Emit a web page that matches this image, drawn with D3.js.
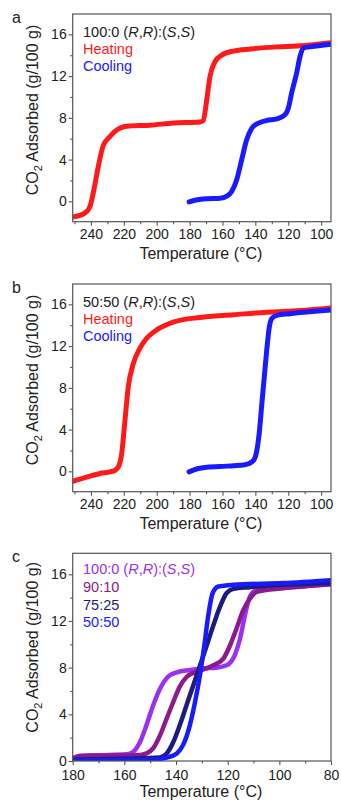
<!DOCTYPE html>
<html>
<head>
<meta charset="utf-8">
<script src="https://cdn.jsdelivr.net/npm/d3@7/dist/d3.min.js"></script>
<style>
    body { margin: 0; background: #fff; }
    svg { font-family: "Liberation Sans", Arial, sans-serif; }
    .tick_label { font-size: 14px; fill: #222; }
    .axis_title { font-size: 16px; fill: #222; }
    .legend { font-size: 14.5px; }
</style>
</head>
<body>
<svg id="chart" width="341" height="802"></svg>
<script>
// ---- panel a : 100:0 ----
var heatA_T = [251, 243.6, 240.6, 238.6, 235.6, 232.6, 228.5, 225.4, 218.3, 204, 190, 173.7, 171.7, 169.6, 167.6, 164.5, 160.5, 153.4, 143.2, 127, 112.8, 94];
var heatA_V = [-1.5, -1.1, -0.5, 0.8, 3.3, 5.3, 6.2, 6.7, 7.2, 7.3, 7.5, 7.6, 7.75, 9.7, 11.95, 13.4, 14.0, 14.4, 14.6, 14.8, 14.9, 15.2];
var coolA_T = [180.3, 175.3, 169.6, 161.5, 157.4, 154.4, 151.3, 148.3, 145.3, 142.2, 138.1, 133.1, 127, 122, 120, 117.9, 114.9, 112.8, 110.8, 106.7, 94];
var coolA_V = [-0.05, 0.15, 0.25, 0.3, 0.5, 0.95, 2.1, 4.0, 5.9, 7.0, 7.5, 7.75, 7.9, 8.3, 8.9, 10.4, 12.3, 13.9, 14.7, 14.8, 15.05];

// ---- panel b : 50:50 ----
var heatB_T = [251.1, 242.6, 234.5, 228.4, 225.4, 223.4, 221.3, 219.3, 217.3, 214.2, 210.2, 206.1, 200, 190, 173.7, 153.4, 133.1, 112.8, 94];
var heatB_V = [-0.95, -0.55, -0.2, -0.05, 0.1, 0.4, 1.7, 4.9, 8.1, 10.35, 11.8, 12.75, 13.55, 14.3, 14.75, 15.0, 15.25, 15.4, 15.65];
var coolB_T = [180.3, 175.3, 169.6, 157.4, 149.2, 144.2, 141.1, 139.1, 137.5, 136.1, 134.6, 133.1, 131.5, 130, 127, 118.9, 94];
var coolB_V = [-0.05, 0.25, 0.4, 0.5, 0.58, 0.73, 1.05, 2.0, 3.9, 6.4, 9.0, 11.6, 13.85, 14.65, 14.95, 15.1, 15.45];

// ---- panel c : cooling curves by ratio ----
var r100_T = [180, 177.2, 169.4, 159.1, 156.5, 153.9, 151.4, 148.8, 146.2, 143.6, 139.7, 134.6, 129.4, 124.3, 120.4, 117.2, 115.2, 113.3, 111.4, 108.8, 98.5, 80];
var r100_V = [0.25, 0.45, 0.5, 0.57, 0.8, 1.65, 3.1, 4.8, 6.2, 7.1, 7.6, 7.8, 7.95, 8.0, 8.2, 9.1, 10.5, 12.5, 14.1, 14.65, 14.85, 15.15];
var r90_T = [180, 177, 170, 155, 151.4, 148.8, 146.2, 143.6, 141, 138.5, 135.9, 132, 128.8, 125.5, 121.6, 119.1, 116.5, 114, 111.4, 108.8, 98.5, 80];
var r90_V = [0.2, 0.4, 0.45, 0.5, 0.65, 1.1, 2.2, 3.65, 5.1, 6.4, 7.2, 7.65, 7.9, 8.2, 8.8, 9.9, 11.4, 12.9, 13.9, 14.5, 14.8, 15.15];
var r75_T = [180, 160, 146.2, 143.6, 141, 138.5, 135.9, 133.3, 130.7, 128.1, 125.5, 123, 120.4, 117.8, 111.4, 80];
var r75_V = [0.1, 0.2, 0.3, 0.65, 1.65, 3.1, 4.8, 6.5, 8.2, 9.9, 11.65, 13.2, 14.4, 14.75, 14.9, 15.25];
var r50_T = [180, 150, 143.6, 139.7, 137.2, 134.6, 132.6, 130.7, 129.2, 127.5, 125.8, 123.6, 117.8, 98.5, 80];
var r50_V = [0.05, 0.1, 0.3, 0.65, 1.4, 3.1, 5.1, 7.4, 9.65, 12.5, 14.4, 14.95, 15.1, 15.25, 15.5];

var ticksAB_x = [240, 220, 200, 180, 160, 140, 120, 100];
var ticksC_x = [180, 160, 140, 120, 100, 80];
var ticks_y = [0, 4, 8, 12, 16];

function zip(T, V) {
    return T.map((t, i) => ({ T: t, V: V[i] }));
}

var svg = d3.select("svg#chart");

function build_panel(cfg) {
    var x = d3.scaleLinear().domain(cfg.xdomain).range([cfg.left, cfg.right]);
    var y = d3.scaleLinear().domain(cfg.ydomain).range([cfg.bottom, cfg.top]);
    var g = svg.append("g");

    g.append("clipPath").attr("id", "clip_" + cfg.id)
        .append("rect")
        .attr("x", cfg.left).attr("y", cfg.top)
        .attr("width", cfg.right - cfg.left).attr("height", cfg.bottom - cfg.top);

    var line = d3.line()
        .x(d => x(d.T))
        .y(d => y(d.V))
        .curve(d3.curveMonotoneX);

    var lines = g.append("g").attr("clip-path", "url(#clip_" + cfg.id + ")");
    cfg.series.forEach(function (s) {
        lines.append("path")
            .datum(zip(s.T, s.V))
            .attr("fill", "none")
            .attr("stroke", s.color)
            .attr("stroke-width", cfg.lw)
            .attr("stroke-linecap", "round")
            .attr("stroke-linejoin", "round")
            .attr("d", line);
    });

    // x axis: major + minor ticks pointing out
    var xaxis = d3.axisBottom(x).tickValues(cfg.xticks).tickSize(4).tickPadding(cfg.xpad).tickSizeOuter(0);
    var xminor = d3.axisBottom(x).tickValues(cfg.xminor).tickSize(2.5).tickFormat("").tickSizeOuter(0);
    var yaxis = d3.axisLeft(y).tickValues(ticks_y).tickSize(4).tickPadding(2).tickSizeOuter(0);
    var yminor = d3.axisLeft(y).tickValues([2, 6, 10, 14]).tickSize(2.5).tickFormat("").tickSizeOuter(0);

    [[xaxis, "x"], [xminor, "x"], [yaxis, "y"], [yminor, "y"]].forEach(function (a) {
        var ax = g.append("g")
            .attr("transform", a[1] == "x" ? "translate(0," + cfg.bottom + ")" : "translate(" + cfg.left + ",0)")
            .call(a[0]);
        ax.select(".domain").remove();
        ax.selectAll(".tick line").attr("stroke", "#555").attr("stroke-width", 1.1);
        ax.selectAll(".tick text").attr("class", "tick_label").attr("font-size", null).attr("font-family", null);
    });

    g.append("rect")
        .attr("x", cfg.left).attr("y", cfg.top)
        .attr("width", cfg.right - cfg.left).attr("height", cfg.bottom - cfg.top)
        .attr("fill", "none").attr("stroke", "#555").attr("stroke-width", 1.2);

    // axis titles
    g.append("text")
        .attr("class", "axis_title")
        .attr("x", (cfg.left + cfg.right) / 2 - 1)
        .attr("y", cfg.bottom + cfg.xtitle_dy)
        .attr("text-anchor", "middle")
        .text("Temperature (°C)");

    var yt = g.append("text")
        .attr("class", "axis_title")
        .attr("transform", "translate(38," + (cfg.top + cfg.ytitle_cy) + ") rotate(-90)")
        .attr("text-anchor", "middle");
    yt.append("tspan").text("CO");
    yt.append("tspan").attr("font-size", "11px").attr("dy", "4").text("2");
    yt.append("tspan").attr("dy", "-4").text(" Adsorbed (g/100 g)");

    g.append("text")
        .attr("x", 12).attr("y", cfg.top + 9)
        .attr("font-size", "16px").attr("fill", "#222")
        .text(cfg.id);

    // legend
    cfg.legend.forEach(function (l, i) {
        var t = g.append("text")
            .attr("class", "legend")
            .attr("x", 83)
            .attr("y", cfg.top + cfg.legend_y0 + i * cfg.legend_dy)
            .attr("fill", l.color);
        if (l.rr) {
            t.append("tspan").text(l.label + " (");
            t.append("tspan").attr("font-style", "italic").text("R");
            t.append("tspan").text(",");
            t.append("tspan").attr("font-style", "italic").text("R");
            t.append("tspan").text("):(");
            t.append("tspan").attr("font-style", "italic").text("S");
            t.append("tspan").text(",");
            t.append("tspan").attr("font-style", "italic").text("S");
            t.append("tspan").text(")");
        } else {
            t.text(l.label);
        }
    });
}

var minorAB = [250, 230, 210, 190, 170, 150, 130, 110];
var minorC = [170, 150, 130, 110, 90];

build_panel({
    id: "a", top: 14, bottom: 221.7, left: 72.7, right: 331,
    xdomain: [251.1, 94], ydomain: [-1.95, 17.95],
    xticks: ticksAB_x, xminor: minorAB, lw: 5, xpad: 3,
    xtitle_dy: 37, ytitle_cy: 96,
    legend_y0: 23, legend_dy: 16.8,
    series: [
        { T: heatA_T, V: heatA_V, color: "#ff1a1a" },
        { T: coolA_T, V: coolA_V, color: "#1a1aff" }
    ],
    legend: [
        { label: "100:0", rr: true, color: "#222" },
        { label: "Heating", color: "#ff1a1a" },
        { label: "Cooling", color: "#1a1aff" }
    ]
});

build_panel({
    id: "b", top: 284, bottom: 491.7, left: 72.7, right: 331,
    xdomain: [251.1, 94], ydomain: [-1.95, 17.95],
    xticks: ticksAB_x, xminor: minorAB, lw: 5, xpad: 3,
    xtitle_dy: 37, ytitle_cy: 96,
    legend_y0: 23, legend_dy: 16.8,
    series: [
        { T: heatB_T, V: heatB_V, color: "#ff1a1a" },
        { T: coolB_T, V: coolB_V, color: "#1a1aff" }
    ],
    legend: [
        { label: "50:50", rr: true, color: "#222" },
        { label: "Heating", color: "#ff1a1a" },
        { label: "Cooling", color: "#1a1aff" }
    ]
});

build_panel({
    id: "c", top: 553.3, bottom: 761, left: 72.7, right: 331,
    xdomain: [180, 80], ydomain: [0, 17.8],
    xticks: ticksC_x, xminor: minorC, lw: 4.5, xpad: 5,
    xtitle_dy: 36, ytitle_cy: 94,
    legend_y0: 21, legend_dy: 17.7,
    series: [
        { T: r100_T, V: r100_V, color: "#9b30f5" },
        { T: r90_T, V: r90_V, color: "#8b1a8b" },
        { T: r75_T, V: r75_V, color: "#1c1c80" },
        { T: r50_T, V: r50_V, color: "#1a1aff" }
    ],
    legend: [
        { label: "100:0", rr: true, color: "#9b30f5" },
        { label: "90:10", color: "#8b1a8b" },
        { label: "75:25", color: "#1c1c80" },
        { label: "50:50", color: "#1a1aff" }
    ]
});
</script>
</body>
</html>
